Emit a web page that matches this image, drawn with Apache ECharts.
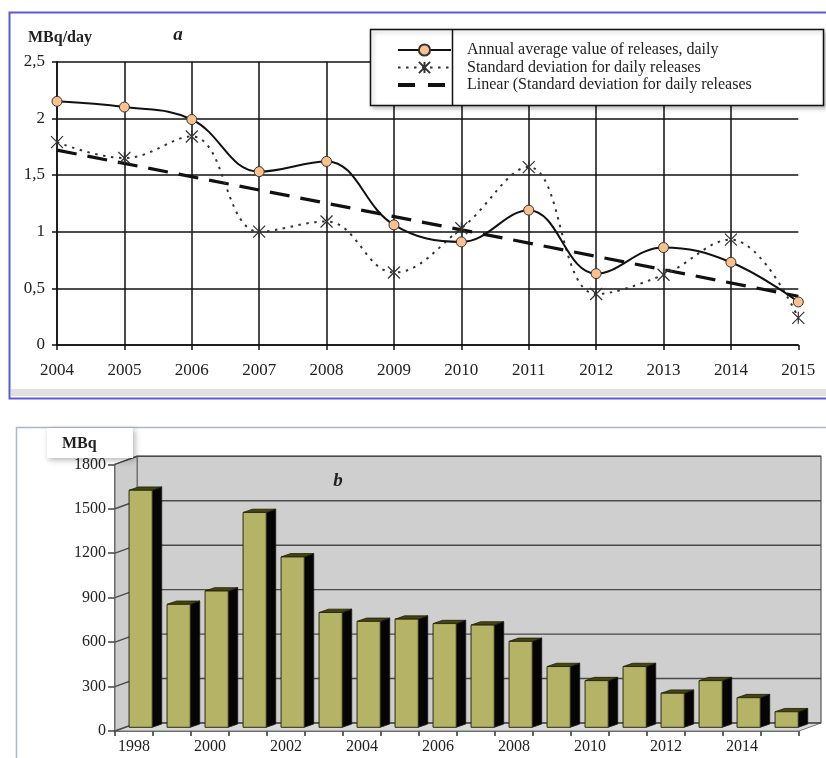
<!DOCTYPE html>
<html>
<head>
<meta charset="utf-8">
<script src="https://cdn.jsdelivr.net/npm/echarts@6/dist/echarts.min.js"></script>
<style>
  html, body { margin: 0; padding: 0; background: #fff; }
  #chart { width: 826px; height: 758px; }
</style>
</head>
<body>
<div id="chart"></div>
<script>
// Panel a: daily releases, 2004-2015 (MBq/day)
const years = ['2004','2005','2006','2007','2008','2009','2010','2011','2012','2013','2014','2015'];
const annualAvg = [2.15, 2.10, 1.99, 1.53, 1.62, 1.06, 0.91, 1.19, 0.63, 0.86, 0.73, 0.38];
const stdDev    = [1.79, 1.65, 1.84, 1.00, 1.09, 0.64, 1.03, 1.57, 0.45, 0.62, 0.93, 0.24];
// linear trend of the standard deviation, at its two ends (2004, 2015)
const trendEnds = [1.72, 0.43];
const yTicksA = [0, 0.5, 1, 1.5, 2, 2.5];

// Panel b: annual releases, 1998-2015 (MBq)
const releaseYears = ['1998','1999','2000','2001','2002','2003','2004','2005','2006',
                      '2007','2008','2009','2010','2011','2012','2013','2014','2015'];
const releases = [1600, 830, 920, 1450, 1150, 775, 715, 730, 700, 690, 580, 410, 315, 410, 230, 315, 200, 105];
const yTicksB = [0, 300, 600, 900, 1200, 1500, 1800];

const SERIF = 'Liberation Serif';
const nameAvg = 'Annual average value of releases, daily';
const nameStd = 'Standard deviation for daily releases';
const nameLin = 'Linear (Standard deviation for daily releases';

const chart = echarts.init(document.getElementById('chart'), null, { renderer: 'canvas' });

// depth of the 3-D box in panel b
const WALL_DX = 22, WALL_DY = -8;

function renderWalls(params, api) {
  const cs = params.coordSys;
  const x = cs.x, y = cs.y, w = cs.width, h = cs.height;
  const children = [
    { type: 'rect', shape: { x: x + WALL_DX, y: y + WALL_DY, width: w, height: h },
      style: { fill: '#cfcfcf', stroke: '#555', lineWidth: 1.2 } },
    { type: 'polygon', shape: { points: [[x, y], [x + WALL_DX, y + WALL_DY], [x + WALL_DX, y + h + WALL_DY], [x, y + h]] },
      style: { fill: '#cdcdcd', stroke: '#666', lineWidth: 1 } },
    { type: 'polygon', shape: { points: [[x, y + h], [x + WALL_DX, y + h + WALL_DY], [x + w + WALL_DX, y + h + WALL_DY], [x + w, y + h]] },
      style: { fill: '#d8d8d8', stroke: '#777', lineWidth: 1 } }
  ];
  yTicksB.forEach(function (v) {
    const ty = api.coord([0, v])[1];
    children.push({ type: 'polyline',
      shape: { points: [[x, ty], [x + WALL_DX, ty + WALL_DY], [x + w + WALL_DX, ty + WALL_DY]] },
      style: { stroke: '#4a4a4a', lineWidth: 1.4, fill: null } });
  });
  return { type: 'group', children: children };
}

function renderBar(params, api) {
  const i = api.value(0), v = api.value(1);
  const base = api.coord([i, 0]);
  const top = api.coord([i, v]);
  const band = api.size([1, 0])[0];
  const w = band * 0.61;
  const x0 = base[0] - band * 0.13;
  const x1 = x0 + w;
  const dx = band * 0.25, dy = -3.3, lift = 3.7;
  const y0 = top[1] - lift, y1 = base[1] - lift;
  return { type: 'group', children: [
    { type: 'polygon', shape: { points: [[x1, y0], [x1 + dx, y0 + dy], [x1 + dx, y1 + dy], [x1, y1]] },
      style: { fill: '#050505', stroke: '#1a1a1a', lineWidth: 0.8 } },
    { type: 'polygon', shape: { points: [[x0, y0], [x0 + dx, y0 + dy], [x1 + dx, y0 + dy], [x1, y0]] },
      style: { fill: '#45450f', stroke: '#1f1f08', lineWidth: 0.8 } },
    { type: 'rect', shape: { x: x0, y: y0, width: w, height: y1 - y0 },
      style: { fill: '#b5b466', stroke: '#2a2a12', lineWidth: 1 } }
  ] };
}

const starPath = 'path://M0,0 L10,10 M10,0 L0,10 M5,0 L5,10';

const option = {
  animation: false,
  backgroundColor: '#ffffff',
  textStyle: { fontFamily: SERIF },
  grid: [
    { left: 57, top: 61.7, right: 27.7, bottom: 413 },
    { left: 115, top: 464.3, right: 27, bottom: 27 }
  ],
  xAxis: [
    { type: 'category', gridIndex: 0, data: years, boundaryGap: false,
      axisLine: { lineStyle: { color: '#111', width: 1.5 } },
      axisTick: { show: true, length: 5, inside: false, lineStyle: { color: '#111', width: 1.5 } },
      axisLabel: { fontFamily: SERIF, fontSize: 17, color: '#222', margin: 17 },
      splitLine: { show: true, interval: function (idx) { return idx < years.length - 1; },
                   lineStyle: { color: '#111', width: 1.5 } } },
    { type: 'category', gridIndex: 1, data: releaseYears, boundaryGap: true,
      axisLine: { lineStyle: { color: '#333', width: 1.5 } },
      axisTick: { show: true, length: 5, interval: 0, lineStyle: { color: '#333', width: 1.5 } },
      axisLabel: { fontFamily: SERIF, fontSize: 16, color: '#222', margin: 8, interval: 1 },
      splitLine: { show: false } }
  ],
  yAxis: [
    { type: 'value', gridIndex: 0, min: 0, max: 2.5, interval: 0.5,
      name: 'MBq/day', nameLocation: 'end', nameGap: 16,
      nameTextStyle: { fontFamily: SERIF, fontSize: 16, fontWeight: 'bold', color: '#222', align: 'center', padding: [0, 0, 0, 6] },
      axisLine: { show: true, lineStyle: { color: '#111', width: 1.5 } },
      axisTick: { show: true, length: 5, lineStyle: { color: '#111', width: 1.5 } },
      axisLabel: { fontFamily: SERIF, fontSize: 17, color: '#222', margin: 12,
                   formatter: function (v) { return String(v).replace('.', ','); } },
      splitLine: { show: true, lineStyle: { color: '#111', width: 1.5 } } },
    { type: 'value', gridIndex: 1, min: 0, max: 1800, interval: 300,
      axisLine: { show: true, lineStyle: { color: '#444', width: 1.5 } },
      axisTick: { show: true, length: 7, lineStyle: { color: '#444', width: 1.5 } },
      axisLabel: { fontFamily: SERIF, fontSize: 16, color: '#222', margin: 9,
                   formatter: function (v) { return String(v); } },
      splitLine: { show: false } }
  ],
  legend: {
    orient: 'vertical', left: 396, top: 42, z: 20, padding: 0,
    itemWidth: 53, itemHeight: 14, itemGap: 1.5,
    textStyle: { fontFamily: SERIF, fontSize: 16, lineHeight: 16, color: '#222', padding: [0, 0, 0, 11] },
    data: [
      { name: nameAvg },
      { name: nameStd },
      { name: nameLin, lineStyle: { type: [17, 13], width: 4, color: '#111' }, itemStyle: { opacity: 0 } }
    ]
  },
  graphic: [
    // frame of panel a
    { type: 'rect', z: -5, shape: { x: 11, y: 389, width: 830, height: 7 }, style: { fill: '#e0e0e0' } },
    { type: 'rect', z: 30, shape: { x: 9.5, y: 12.5, width: 840, height: 386 },
      style: { fill: null, stroke: '#5b5bd5', lineWidth: 2 } },
    // legend box
    { type: 'rect', z: 10, shape: { x: 370.5, y: 29.5, width: 453, height: 76 },
      style: { fill: '#fff', stroke: '#111', lineWidth: 1.5, shadowBlur: 4, shadowColor: 'rgba(0,0,0,0.25)', shadowOffsetX: 2, shadowOffsetY: 2 } },
    { type: 'line', z: 11, shape: { x1: 452.5, y1: 29.5, x2: 452.5, y2: 105.5 }, style: { stroke: '#111', lineWidth: 1.5 } },
    { type: 'text', z: 11, x: 178, y: 35,
      style: { text: 'a', font: 'italic bold 19px "Liberation Serif"', fill: '#222', textAlign: 'center', textVerticalAlign: 'middle' } },
    // frame of panel b
    { type: 'rect', z: -5, shape: { x: 16.5, y: 427.5, width: 840, height: 400 },
      style: { fill: null, stroke: '#a9b8cb', lineWidth: 1.5 } },
    { type: 'rect', z: 12, shape: { x: 47, y: 428, width: 86, height: 30 },
      style: { fill: '#fff', shadowBlur: 6, shadowColor: 'rgba(0,0,0,0.3)', shadowOffsetX: 2, shadowOffsetY: 2 } },
    { type: 'text', z: 13, x: 62, y: 444,
      style: { text: 'MBq', font: 'bold 16px "Liberation Serif"', fill: '#222', textAlign: 'left', textVerticalAlign: 'middle' } },
    { type: 'text', z: 13, x: 338, y: 481,
      style: { text: 'b', font: 'italic bold 19px "Liberation Serif"', fill: '#222', textAlign: 'center', textVerticalAlign: 'middle' } }
  ],
  series: [
    { name: nameLin, type: 'line', xAxisIndex: 0, yAxisIndex: 0, z: 3,
      data: [[0, trendEnds[0]], [years.length - 1, trendEnds[1]]],
      symbol: 'none',
      lineStyle: { color: '#111', width: 3.2, type: [20, 11] },
      itemStyle: { color: '#111' } },
    { name: nameStd, type: 'line', xAxisIndex: 0, yAxisIndex: 0, z: 4,
      data: stdDev, smooth: 0.4,
      symbol: starPath, symbolSize: 12,
      lineStyle: { color: '#333', width: 2, type: [2.5, 5.5] },
      itemStyle: { color: 'rgba(0,0,0,0)', borderColor: '#333', borderWidth: 1.2 } },
    { name: nameAvg, type: 'line', xAxisIndex: 0, yAxisIndex: 0, z: 5,
      data: annualAvg, smooth: 0.4,
      symbol: 'circle', symbolSize: 10,
      lineStyle: { color: '#111', width: 2 },
      itemStyle: { color: '#f8c18d', borderColor: '#333', borderWidth: 1 } },
    { type: 'custom', xAxisIndex: 1, yAxisIndex: 1, z: 1, silent: true,
      data: [[0, 0]], renderItem: renderWalls, encode: { x: 0, y: 1 } },
    { type: 'custom', xAxisIndex: 1, yAxisIndex: 1, z: 2,
      data: releases.map(function (v, i) { return [i, v]; }),
      renderItem: renderBar, encode: { x: 0, y: 1 } }
  ]
};

chart.setOption(option);
</script>
</body>
</html>
